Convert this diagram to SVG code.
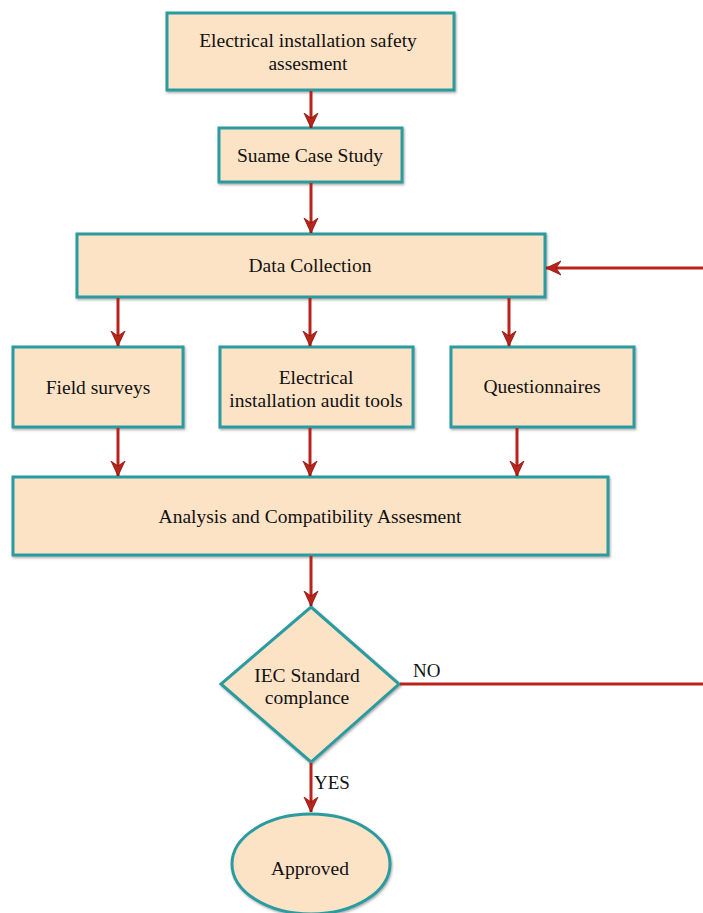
<svg xmlns="http://www.w3.org/2000/svg" width="703" height="913" viewBox="0 0 703 913">
<defs>
<marker id="ah" markerWidth="16" markerHeight="16" refX="15" refY="8" orient="auto" markerUnits="userSpaceOnUse">
<path d="M0,1 L15,8 L0,15 L5,8 z" fill="#b8231c" stroke="#8a1510" stroke-width="0.8"/>
</marker>
<filter id="sh" x="-5%" y="-5%" width="110%" height="115%">
<feDropShadow dx="1" dy="1.5" stdDeviation="0.8" flood-color="#555" flood-opacity="0.5"/>
</filter>
</defs>
<style>
.box{fill:#fde3c6;stroke:#2b9b9f;stroke-width:3;filter:url(#sh)}
.t{font-family:"Liberation Serif","Times New Roman",serif;font-size:19.5px;fill:#111;text-anchor:middle}
.c{stroke:#b8231c;stroke-width:3;fill:none}
.ca{stroke:#b8231c;stroke-width:3;fill:none;marker-end:url(#ah)}
.lbl{font-family:"Liberation Serif","Times New Roman",serif;font-size:19px;fill:#111}
</style>
<rect width="703" height="913" fill="#ffffff"/>
<g id="n1"><rect class="box" x="167" y="13" width="287" height="77"/><text class="t" x="308" y="47">Electrical installation safety</text><text class="t" x="308" y="70">assesment</text></g>
<g id="n2"><rect class="box" x="219" y="128" width="183" height="54"/><text class="t" x="310" y="162">Suame Case Study</text></g>
<g id="n3"><rect class="box" x="77" y="234" width="468" height="63"/><text class="t" x="310" y="272">Data Collection</text></g>
<g id="n4"><rect class="box" x="13" y="347" width="170" height="80"/><text class="t" x="98" y="394">Field surveys</text></g>
<g id="n5"><rect class="box" x="220" y="347" width="193" height="80"/><text class="t" x="316" y="384">Electrical</text><text class="t" x="316" y="407">installation audit tools</text></g>
<g id="n6"><rect class="box" x="451" y="347" width="183" height="80"/><text class="t" x="542" y="393">Questionnaires</text></g>
<g id="n7"><rect class="box" x="13" y="477" width="595" height="78"/><text class="t" x="310" y="523">Analysis and Compatibility Assesment</text></g>
<g id="n8"><polygon class="box" points="311,607 399,684 311,762 221,684"/><text class="t" x="307" y="682">IEC Standard</text><text class="t" x="307" y="704">complance</text></g>
<g id="n9"><ellipse class="box" cx="311" cy="864" rx="79" ry="50"/><text class="t" x="310" y="875">Approved</text></g>
<g id="connectors">
<line class="ca" x1="311" y1="91" x2="311" y2="128"/>
<line class="ca" x1="311" y1="183" x2="311" y2="233"/>
<line class="ca" x1="118" y1="298" x2="118" y2="346"/>
<line class="ca" x1="310" y1="298" x2="310" y2="346"/>
<line class="ca" x1="509" y1="298" x2="509" y2="346"/>
<line class="ca" x1="118" y1="428" x2="118" y2="476"/>
<line class="ca" x1="310" y1="428" x2="310" y2="476"/>
<line class="ca" x1="517" y1="428" x2="517" y2="476"/>
<line class="ca" x1="311" y1="556" x2="311" y2="606"/>
<line class="ca" x1="311" y1="763" x2="311" y2="812"/>
<line class="c" x1="400" y1="684" x2="703" y2="684"/>
<line class="ca" x1="703" y1="268" x2="546" y2="268"/>
<text class="lbl" x="413" y="677">NO</text>
<text class="lbl" x="314" y="789">YES</text>
</g>
</svg>
